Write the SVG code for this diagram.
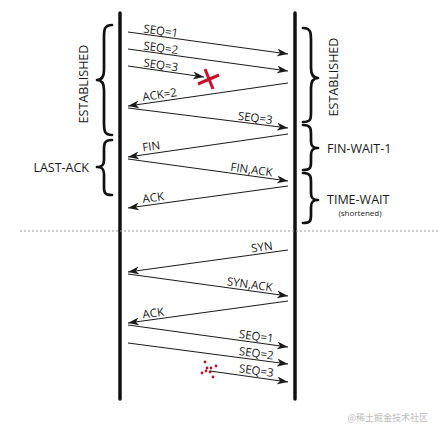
<svg xmlns="http://www.w3.org/2000/svg" width="440" height="435" viewBox="0 0 440 435">
<defs>
<style>
.bg{fill:#fff}
.life{stroke:#111;stroke-width:3.5;stroke-linecap:round;fill:none}
.msg{stroke:#1a1a1a;stroke-width:1;fill:none;marker-end:url(#ah)}
.lbl{font-family:"Open Sans","DejaVu Sans",sans-serif;font-size:11.5px;fill:#1a1a1a}
.st{font-family:"Open Sans","DejaVu Sans",sans-serif;font-size:12.5px;fill:#1a1a1a}
.small{font-family:"Open Sans","DejaVu Sans",sans-serif;font-size:8px;fill:#1a1a1a}
.brace{stroke:#111;stroke-width:2.7;fill:none;stroke-linecap:round;stroke-linejoin:round}
.sep{stroke:#999;stroke-width:1;stroke-dasharray:2,2}
.lost{stroke:#c8102e;stroke-width:3;stroke-linecap:butt}
.dot{fill:#b0182a}
.wm{font-family:"Noto Sans CJK SC",sans-serif;font-size:9px;fill:#bbb}
</style>
<marker id="ah" markerUnits="userSpaceOnUse" markerWidth="12" markerHeight="8" refX="11" refY="4" orient="auto">
<path d="M0,0 L11,4 L0,8 L3,4 Z" fill="#1a1a1a"/>
</marker>
</defs>
<rect class="bg" width="440" height="435"/>

<g id="host-left"><line class="life" x1="120" y1="13" x2="120" y2="399"/></g>
<g id="host-right"><line class="life" x1="295" y1="13" x2="295" y2="399"/></g>

<g id="separator"><line class="sep" x1="20" y1="231" x2="440" y2="231"/></g>

<g id="state-left-established">
<path class="brace" d="M112,25 C104,25 104,30 104,38 L104,70 C104,77 102,80 97,80 C102,80 104,83 104,90 L104,122 C104,130 104,135 112,135"/>
<text class="st" transform="translate(88,84) rotate(-90)" text-anchor="middle">ESTABLISHED</text>
</g>
<g id="state-last-ack">
<path class="brace" d="M112,140 C104,140 104,144 104,150 L104,160 C104,165 102,167 97,167 C102,167 104,169 104,174 L104,186 C104,192 104,195 112,195"/>
<text class="st" x="89" y="172" text-anchor="end">LAST-ACK</text>
</g>
<g id="state-right-established">
<path class="brace" d="M303,28 C311,28 311,33 311,41 L311,68 C311,75 313,78 318,78 C313,78 311,81 311,88 L311,112 C311,119 311,122 303,122"/>
<text class="st" transform="translate(338,77) rotate(-90)" text-anchor="middle">ESTABLISHED</text>
</g>
<g id="state-fin-wait-1">
<path class="brace" d="M303,125 C311,125 311,129 311,135 L311,141 C311,146 313,148 318,148 C313,148 311,150 311,155 L311,161 C311,167 311,170 303,170"/>
<text class="st" x="327" y="152.5">FIN-WAIT-1</text>
</g>
<g id="state-time-wait">
<path class="brace" d="M303,173 C311,173 311,177 311,183 L311,193 C311,198 313,200 318,200 C313,200 311,202 311,207 L311,215 C311,220 311,223 303,223"/>
<text class="st" x="327" y="203.5">TIME-WAIT</text>
<text class="small" x="360" y="216" text-anchor="middle">(shortened)</text>
</g>

<g id="connectors">
<line class="msg" x1="128" y1="32" x2="288" y2="54"/>
<line class="msg" x1="128" y1="49" x2="288" y2="71"/>
<line class="msg" x1="128" y1="66" x2="204" y2="77"/>
<line class="msg" x1="288" y1="83" x2="128" y2="106"/>
<line class="msg" x1="128" y1="108" x2="288" y2="128"/>
<line class="msg" x1="288" y1="134" x2="128" y2="157"/>
<line class="msg" x1="128" y1="159" x2="288" y2="181"/>
<line class="msg" x1="288" y1="186" x2="128" y2="208"/>
<line class="msg" x1="288" y1="250" x2="128" y2="272"/>
<line class="msg" x1="128" y1="274" x2="288" y2="296"/>
<line class="msg" x1="288" y1="301" x2="128" y2="323"/>
<line class="msg" x1="128" y1="325" x2="288" y2="347"/>
<line class="msg" x1="128" y1="343" x2="288" y2="364"/>
<line class="msg" x1="210" y1="371" x2="288" y2="382"/>
</g>

<g id="labels">
<text class="lbl" transform="translate(143,32.5) rotate(7.8)">SEQ=1</text>
<text class="lbl" transform="translate(143,49.5) rotate(7.8)">SEQ=2</text>
<text class="lbl" transform="translate(143,66.5) rotate(8.2)">SEQ=3</text>
<text class="lbl" transform="translate(143,101) rotate(-8.2)">ACK=2</text>
<text class="lbl" transform="translate(272,124) rotate(7.1)" text-anchor="end">SEQ=3</text>
<text class="lbl" transform="translate(143,151.5) rotate(-8.2)">FIN</text>
<text class="lbl" transform="translate(272,176.5) rotate(7.8)" text-anchor="end">FIN,ACK</text>
<text class="lbl" transform="translate(143,203) rotate(-7.8)">ACK</text>
<text class="lbl" transform="translate(273,249.5) rotate(-7.8)" text-anchor="end">SYN</text>
<text class="lbl" transform="translate(272,291.5) rotate(7.8)" text-anchor="end">SYN,ACK</text>
<text class="lbl" transform="translate(143,318.5) rotate(-7.8)">ACK</text>
<text class="lbl" transform="translate(273,342.5) rotate(7.8)" text-anchor="end">SEQ=1</text>
<text class="lbl" transform="translate(273,359.5) rotate(7.5)" text-anchor="end">SEQ=2</text>
<text class="lbl" transform="translate(273,377) rotate(8)" text-anchor="end">SEQ=3</text>
</g>

<g id="lost-marker">
<line class="lost" x1="205" y1="69" x2="213" y2="89"/>
<line class="lost" x1="198" y1="84" x2="219" y2="75"/>
</g>
<g id="scattered">
<circle class="dot" cx="205" cy="362" r="1.4"/>
<circle class="dot" cx="216" cy="366" r="1.4"/>
<circle class="dot" cx="207" cy="368" r="1.4"/>
<circle class="dot" cx="211" cy="368" r="1.4"/>
<circle class="dot" cx="206" cy="371" r="1.4"/>
<circle class="dot" cx="210" cy="372" r="1.4"/>
<circle class="dot" cx="202" cy="373" r="1.4"/>
<circle class="dot" cx="213" cy="377" r="1.4"/>
</g>

<text class="wm" x="428" y="421" text-anchor="end">@稀土掘金技术社区</text>
</svg>
